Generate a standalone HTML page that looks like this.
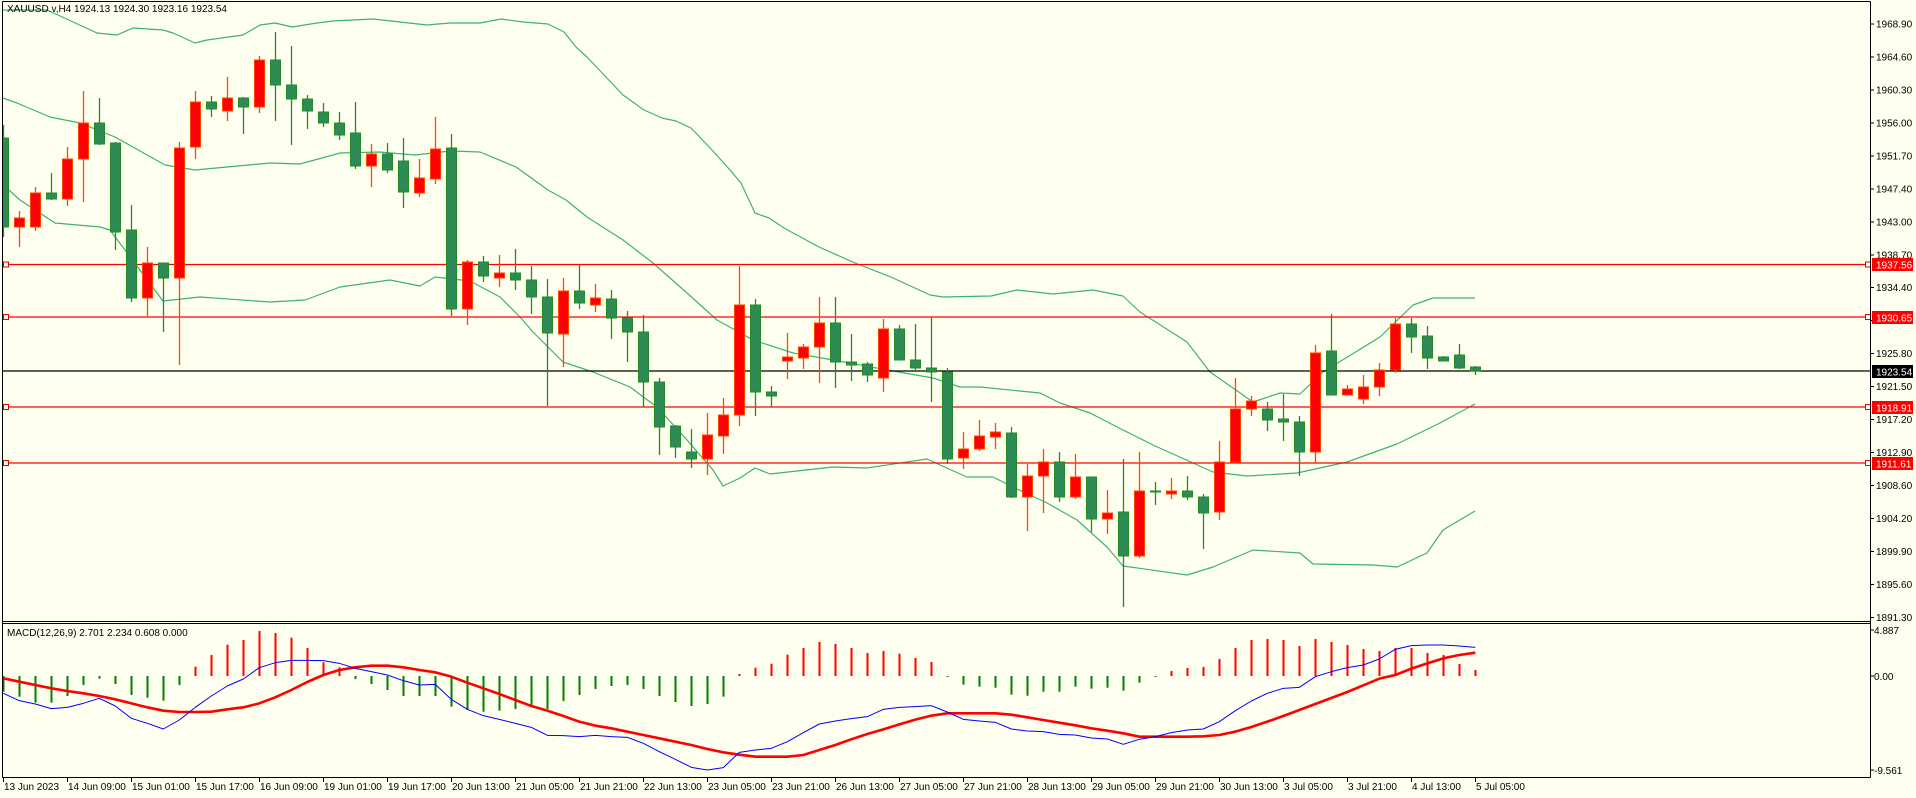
<!DOCTYPE html>
<html><head><meta charset="utf-8"><style>
html,body{margin:0;padding:0;background:#FFFFF0;}
svg{display:block;}
text{font-family:"Liberation Sans",sans-serif;font-size:10px;fill:#000;}
</style></head><body>
<svg id="s" width="1916" height="798" viewBox="0 0 1916 798" xmlns="http://www.w3.org/2000/svg">
<rect x="0" y="0" width="1916" height="798" fill="#FFFFF0"/>
<defs>
<clipPath id="cm"><rect x="3" y="2" width="1867" height="619"/></clipPath>
<clipPath id="cd"><rect x="3" y="625" width="1867" height="152"/></clipPath>
</defs>
<g id="main" clip-path="url(#cm)"></g>
<g id="macd" clip-path="url(#cd)"></g>
<!-- borders -->
<g stroke="#000" stroke-width="1" fill="none" shape-rendering="crispEdges">
<line x1="2.5" y1="1.5" x2="1870.5" y2="1.5"/>
<line x1="2.5" y1="1.5" x2="2.5" y2="777.5"/>
<line x1="1870.5" y1="1.5" x2="1870.5" y2="777.5"/>
<line x1="2.5" y1="621.5" x2="1870.5" y2="621.5"/>
<line x1="2.5" y1="623.5" x2="1870.5" y2="623.5"/>
<line x1="2.5" y1="777.5" x2="1870.5" y2="777.5"/>
</g>
<g id="ticks" stroke="#000" stroke-width="1" shape-rendering="crispEdges"></g>
<!-- price labels -->
<g>
<text x="1876" y="27.5">1968.90</text>
<text x="1876" y="60.5">1964.60</text>
<text x="1876" y="93.4">1960.30</text>
<text x="1876" y="126.4">1956.00</text>
<text x="1876" y="159.3">1951.70</text>
<text x="1876" y="192.3">1947.40</text>
<text x="1876" y="225.3">1943.00</text>
<text x="1876" y="258.3">1938.70</text>
<text x="1876" y="291.2">1934.40</text>
<text x="1876" y="324.2">1930.10</text>
<text x="1876" y="357.2">1925.80</text>
<text x="1876" y="390.2">1921.50</text>
<text x="1876" y="423.2">1917.20</text>
<text x="1876" y="456.1">1912.90</text>
<text x="1876" y="489.1">1908.60</text>
<text x="1876" y="522.1">1904.20</text>
<text x="1876" y="555.1">1899.90</text>
<text x="1876" y="588.1">1895.60</text>
<text x="1876" y="621">1891.30</text>
</g>
<g>
<rect x="1872" y="258" width="41" height="13" fill="#FF0000"/>
<text x="1876" y="268.5" style="fill:#fff">1937.56</text>
<rect x="1872" y="311" width="41" height="13" fill="#FF0000"/>
<text x="1876" y="321.5" style="fill:#fff">1930.65</text>
<rect x="1872" y="365" width="41" height="13" fill="#000"/>
<text x="1876" y="375.5" style="fill:#fff">1923.54</text>
<rect x="1872" y="401" width="41" height="13" fill="#FF0000"/>
<text x="1876" y="411.5" style="fill:#fff">1918.91</text>
<rect x="1872" y="457" width="41" height="13" fill="#FF0000"/>
<text x="1876" y="467.5" style="fill:#fff">1911.61</text>
</g>
<text x="1874" y="634">4.887</text>
<text x="1874" y="680">0.00</text>
<text x="1874" y="774">-9.561</text>
<text x="7" y="12">XAUUSD.v,H4  1924.13 1924.30 1923.16 1923.54</text>
<text x="7" y="636">MACD(12,26,9) 2.701 2.234 0.608 0.000</text>
<g>
<text x="4" y="790">13 Jun 2023</text>
<text x="68" y="790">14 Jun 09:00</text>
<text x="132" y="790">15 Jun 01:00</text>
<text x="196" y="790">15 Jun 17:00</text>
<text x="260" y="790">16 Jun 09:00</text>
<text x="324" y="790">19 Jun 01:00</text>
<text x="388" y="790">19 Jun 17:00</text>
<text x="452" y="790">20 Jun 13:00</text>
<text x="516" y="790">21 Jun 05:00</text>
<text x="580" y="790">21 Jun 21:00</text>
<text x="644" y="790">22 Jun 13:00</text>
<text x="708" y="790">23 Jun 05:00</text>
<text x="772" y="790">23 Jun 21:00</text>
<text x="836" y="790">26 Jun 13:00</text>
<text x="900" y="790">27 Jun 05:00</text>
<text x="964" y="790">27 Jun 21:00</text>
<text x="1028" y="790">28 Jun 13:00</text>
<text x="1092" y="790">29 Jun 05:00</text>
<text x="1156" y="790">29 Jun 21:00</text>
<text x="1220" y="790">30 Jun 13:00</text>
<text x="1284" y="790">3 Jul 05:00</text>
<text x="1348" y="790">3 Jul 21:00</text>
<text x="1412" y="790">4 Jul 13:00</text>
<text x="1476" y="790">5 Jul 05:00</text>
</g>
</svg>
<script>
(function(){
var NS="http://www.w3.org/2000/svg";
function el(p,t,a){var e=document.createElementNS(NS,t);for(var k in a)e.setAttribute(k,a[k]);p.appendChild(e);return e;}
var main=document.getElementById('main'),macd=document.getElementById('macd'),ticks=document.getElementById('ticks');
function X(i){return 3.3+16*i;}
function pl(p,pts,col,w){el(p,'polyline',{points:pts.map(function(q){return q[0]+','+q[1]}).join(' '),fill:'none',stroke:col,'stroke-width':w,'stroke-linejoin':'round'});}
// bollinger
var up=[[0,10],[47,10],[97,33],[117,35],[133,28],[163,30],[173,33],[195,43],[207,40],[243,35],[260,25],[275,23],[292,27],[317,23],[333,21],[373,19],[400,22],[427,25],[450,23],[480,23],[501,19],[523,22],[548,24],[564,32],[576,47],[587,57],[623,95],[644,110],[662,118],[676,121],[691,128],[712,150],[730,170],[741,183],[755,213],[769,218],[784,228],[819,247],[855,263],[891,277],[930,295],[943,297],[991,296],[1017,290],[1053,294],[1093,290],[1123,296],[1140,312],[1187,342],[1210,372],[1253,402],[1280,393],[1300,394],[1323,372],[1380,337],[1413,305],[1433,298],[1475,298]];
var mid=[[0,97],[17,103],[50,117],[80,123],[115,137],[165,165],[195,170],[270,163],[300,164],[340,153],[380,152],[415,155],[450,151],[480,152],[516,167],[548,190],[566,200],[587,217],[623,240],[653,263],[687,293],[717,320],[753,340],[793,353],[833,360],[893,371],[933,378],[960,387],[980,387],[1040,393],[1060,403],[1090,413],[1123,430],[1153,445],[1193,463],[1213,472],[1247,476],[1297,473],[1347,462],[1397,444],[1440,423],[1475,404]];
var lo=[[0,182],[20,200],[55,223],[100,227],[110,230],[163,301],[200,297],[270,302],[305,300],[340,287],[390,280],[420,286],[435,277],[470,281],[500,297],[520,317],[533,332],[563,362],[593,372],[630,387],[657,407],[687,440],[713,470],[723,486],[740,478],[755,468],[770,474],[833,467],[867,468],[927,459],[940,465],[967,477],[993,477],[1013,487],[1047,503],[1077,520],[1107,547],[1123,566],[1187,575],[1213,567],[1253,550],[1300,553],[1313,564],[1373,565],[1397,567],[1427,553],[1443,530],[1475,511]];
[up,mid,lo].forEach(function(a){pl(main,a,'#3CB371',1.2);});
// h-lines
[264.5,317,407,463].forEach(function(y){el(main,'line',{x1:3,y1:y,x2:1870,y2:y,stroke:'#FF0000','stroke-width':1.3});
 el(main,'rect',{x:3.5,y:y-2.5,width:5,height:5,fill:'#fff',stroke:'#E00000','stroke-width':1});
 el(main,'rect',{x:1865.5,y:y-2.5,width:5,height:5,fill:'#fff',stroke:'#E00000','stroke-width':1});});
el(main,'line',{x1:3,y1:371,x2:1870,y2:371,stroke:'#000','stroke-width':1.3});
var C="g 138 227 125 237|r 218 227 211 247|r 193 227 187 231|g 193 199 173 200|r 159 199 147 206|r 123 159 91 202|g 123 144 98 145|g 143 232 142 250|g 230 298 205 302|r 263 298 247 317|g 263 278 263 332|r 148 278 142 365|r 102 147 91 159|g 102 109 96 117|r 98 111 77 121|g 98 107 97 134|r 60 107 56 113|g 60 85 32 121|g 85 99 46 145|g 99 111 95 129|g 112 123 103 127|g 123 135 112 140|g 133 166 102 169|r 154 166 144 187|g 154 170 143 173|g 161 192 138 208|r 178 193 159 197|r 149 179 117 184|g 148 309 134 316|r 262 309 260 325|g 262 276 256 282|r 273 278 255 287|g 273 280 249 290|g 280 297 266 314|g 297 333 279 406|r 291 334 278 367|g 291 303 265 309|r 298 305 284 312|g 299 318 290 339|g 318 332 311 362|g 332 382 315 407|g 382 427 378 455|g 426 447 425 458|g 452 459 429 468|r 435 459 413 475|r 415 436 398 454|r 305 415 266 426|g 305 392 299 416|g 392 396 386 407|r 357 361 333 379|r 347 358 344 369|r 323 347 297 383|g 323 362 297 388|g 362 365 334 381|g 364 375 362 382|r 329 378 319 392|g 329 360 325 360|g 360 368 324 371|g 368 372 317 402|g 372 459 368 464|r 449 458 432 469|r 436 449 420 451|r 432 437 423 449|g 433 497 427 498|r 476 497 464 531|r 462 476 449 513|g 462 497 452 502|r 477 497 454 499|g 477 519 477 532|r 513 519 490 534|g 512 556 459 607|r 491 556 452 558|g 491 492 482 505|r 491 494 478 499|g 491 497 476 500|g 497 513 494 549|r 462 512 441 520|r 409 462 378 462|r 401 409 396 416|g 409 420 402 431|g 419 422 394 441|g 422 452 416 476|r 353 452 345 463|g 351 395 314 395|r 389 395 385 395|r 387 399 375 404|r 370 387 363 396|r 324 370 318 373|g 324 337 318 353|g 336 358 326 369|g 357 361 356 361|g 355 368 344 369|g 367 371 366 375".split('|');
C.forEach(function(s,i){var a=s.split(' '),x=Math.round(X(i));var g=a[0]=='g';var bc=g?'#228B22':'#FF4500',fc=g?'#2E8B57':'#FF0000';
 var bt=+a[1],bb=+a[2],wt=+a[3],wb=+a[4];
 el(main,'line',{x1:x+0.5,y1:wt,x2:x+0.5,y2:wb,stroke:bc,'stroke-width':1.3});
 el(main,'rect',{x:x-4.5,y:bt,width:10,height:Math.max(bb-bt,1),fill:fc,stroke:bc,'stroke-width':1});});
// MACD
var zy=function(v){return 620+v/3;};
var H=[215,230,248,248,228,195,176,192,225,233,242,195,140,105,74,60,33,39,53,84,127,142,177,192,210,228,228,228,260,270,275,272,267,260,267,243,225,207,198,195,207,228,246,258,252,230,162,143,131,104,84,66,72,84,99,93,101,114,126,171,194,200,203,224,227,215,215,200,206,203,212,188,171,153,144,141,117,84,60,57,60,78,57,66,75,87,93,84,84,99,105,132,150];
H.forEach(function(v,i){var x=Math.round(X(i))+0.5;var y=zy(v);var z=676;
 el(macd,'line',{x1:x,y1:Math.min(y,z),x2:x,y2:Math.max(y,z),stroke:v<168?'#FF0000':'#008000','stroke-width':2});});
var B=[220,242,252,266,262,250,235,258,295,310,327,300,262,228,198,177,143,128,121,121,122,130,145,155,165,182,195,193,238,268,287,298,310,322,346,347,350,346,350,352,370,395,418,442,450,443,397,390,385,365,338,312,303,296,290,268,262,260,257,276,298,303,307,327,333,335,343,345,354,357,373,358,350,338,330,327,305,272,243,220,205,202,170,155,143,135,117,88,77,75,75,78,82];
var R=[175,185,195,205,213,220,228,238,250,262,272,276,276,275,268,262,250,232,210,186,165,150,142,137,137,142,150,157,170,188,205,222,240,258,272,288,305,317,325,335,345,355,365,375,387,397,404,410,410,410,405,390,375,358,342,328,313,299,287,280,280,280,280,284,292,300,308,316,325,332,340,350,350,350,350,349,345,335,321,305,288,270,252,234,216,196,176,165,146,130,115,105,98];
pl(macd,R.map(function(v,i){return [X(i),zy(v)]}),'#FF0000',2.6);
pl(macd,B.map(function(v,i){return [X(i),zy(v)]}),'#0000FF',1);
// ticks
for(var k=0;k<19;k++){var y=23.9+k*32.98;el(ticks,'line',{x1:1870,y1:y,x2:1874,y2:y});}
[630,676,770].forEach(function(y){el(ticks,'line',{x1:1870,y1:y,x2:1874,y2:y});});
for(var k=0;k<24;k++){var x=Math.round(X(4*k))+0.5;el(ticks,'line',{x1:x,y1:777,x2:x,y2:782});}
})();
</script>
</body></html>
